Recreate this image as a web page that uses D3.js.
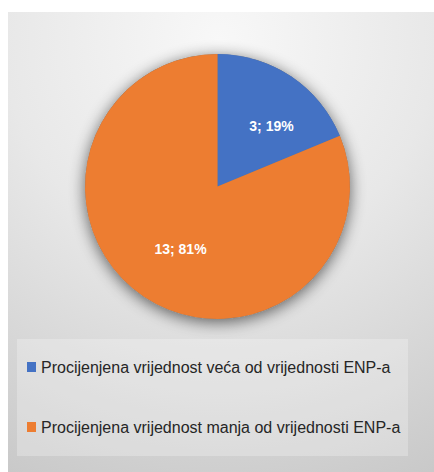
<!DOCTYPE html>
<html>
<head>
<meta charset="utf-8">
<script src="https://cdn.jsdelivr.net/npm/d3@7"></script>
<style>
  body { margin: 0; background: #fff; }
</style>
</head>
<body>
<div id="chart"></div>
<script>
let categories = ["Procijenjena vrijednost veća od vrijednosti ENP-a", "Procijenjena vrijednost manja od vrijednosti ENP-a"];
let counts = [3, 13];
let percents = ["19%", "81%"];
let colors = ["#4472C4", "#ED7D31"];

let width = 434, height = 472;

let svg = d3.select("#chart")
    .append("svg")
        .attr("width", width)
        .attr("height", height);

let defs = svg.append("defs");

// background gradient, light in the top middle
let grad = defs.append("radialGradient")
    .attr("id", "bg")
    .attr("gradientUnits", "userSpaceOnUse")
    .attr("cx", 220).attr("cy", 40).attr("r", 480);
grad.append("stop").attr("offset", "0%").attr("stop-color", "#f8f8f8");
grad.append("stop").attr("offset", "45%").attr("stop-color", "#e8e8e8");
grad.append("stop").attr("offset", "100%").attr("stop-color", "#c9c9c9");

let shadow = defs.append("filter")
    .attr("id", "shadow")
    .attr("x", "-30%").attr("y", "-30%")
    .attr("width", "160%").attr("height", "160%");
shadow.append("feGaussianBlur").attr("in", "SourceAlpha").attr("stdDeviation", 8);
shadow.append("feOffset").attr("dx", 0).attr("dy", 3).attr("result", "blur");
shadow.append("feComponentTransfer").append("feFuncA").attr("type", "linear").attr("slope", 0.6);
let merge = shadow.append("feMerge");
merge.append("feMergeNode");
merge.append("feMergeNode").attr("in", "SourceGraphic");

svg.append("rect")
    .attr("x", 8).attr("y", 12)
    .attr("width", width - 8).attr("height", height - 12)
    .attr("fill", "url(#bg)");

// pie
let cx = 217.5, cy = 186.5, radius = 132.5;

let pie = d3.pie().sort(null).value(d => d);
let arcs = pie(counts);
let arc = d3.arc().innerRadius(0).outerRadius(radius);
let labelArc = d3.arc().innerRadius(radius * 0.57).outerRadius(radius * 0.57);

let g = svg.append("g").attr("transform", `translate(${cx},${cy})`);

g.append("circle")
    .attr("r", radius)
    .attr("fill", "#777")
    .attr("filter", "url(#shadow)");

g.selectAll(".slice").data(arcs).enter()
    .append("path")
        .attr("class", "slice")
        .attr("d", arc)
        .attr("fill", (d, i) => colors[i]);

g.selectAll(".label").data(arcs).enter()
    .append("text")
        .attr("class", "label")
        .attr("transform", (d, i) => {
            let c = labelArc.centroid(d);
            if (i == 0) { c[0] += 12; c[1] += 2; } else { c[0] += 5; }
            return `translate(${c[0]},${c[1]})`;
        })
        .attr("text-anchor", "middle")
        .attr("dy", "0.35em")
        .attr("fill", "#fff")
        .attr("font-family", "'Liberation Sans', Arial, sans-serif")
        .attr("font-weight", "bold")
        .attr("font-size", 14)
        .text((d, i) => counts[i] + "; " + percents[i]);

// legend
svg.append("rect")
    .attr("x", 17).attr("y", 339)
    .attr("width", 391).attr("height", 117)
    .attr("fill", "#ffffff")
    .attr("fill-opacity", 0.25);

let legend = svg.selectAll(".legendItem").data(categories).enter()
    .append("g")
        .attr("class", "legendItem")
        .attr("transform", (d, i) => `translate(27,${362 + i * 60})`);

legend.append("rect")
    .attr("width", 9).attr("height", 10)
    .attr("fill", (d, i) => colors[i]);

legend.append("text")
    .attr("x", 14)
    .attr("y", 10.5)
    .attr("font-family", "'Liberation Sans', Arial, sans-serif")
    .attr("font-size", 16)
    .attr("fill", "#262626")
    .text(d => d);
</script>
</body>
</html>
